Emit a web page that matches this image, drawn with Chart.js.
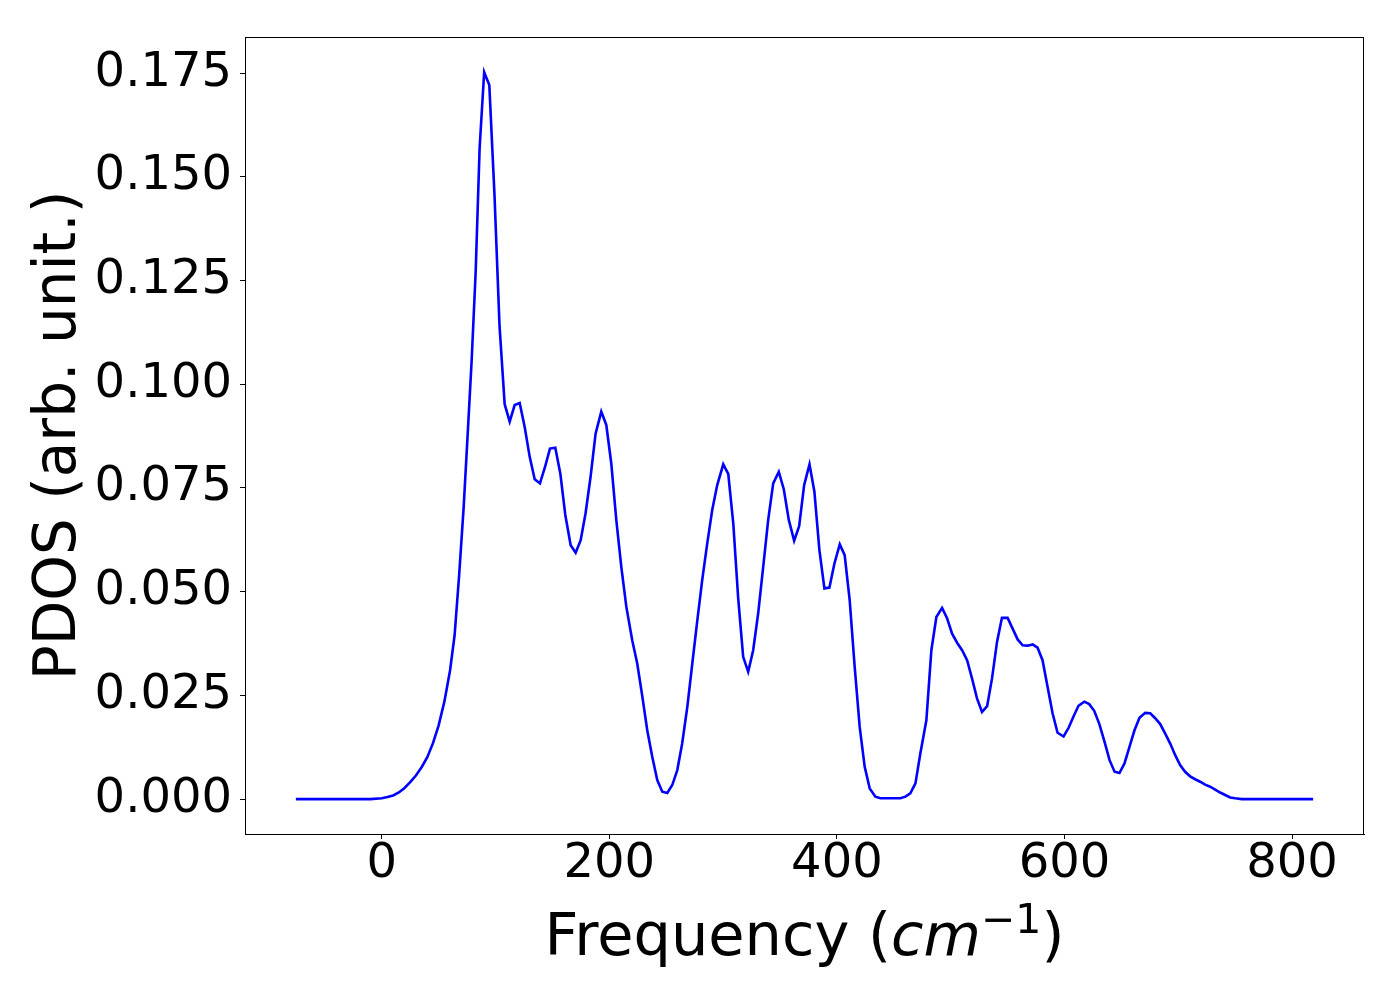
<!DOCTYPE html>
<html>
<head>
<meta charset="utf-8">
<script src="https://cdn.jsdelivr.net/npm/chart.js@4/dist/chart.umd.min.js"></script>
<style>
  html, body { margin: 0; padding: 0; background: #fff; }
  #wrap { width: 1400px; height: 1000px; }
</style>
</head>
<body>
<div id="wrap"><canvas id="pdos" width="1400" height="1000"></canvas></div>
<script>
// PDOS curve
const freq = [
  -75.5, -10, 0, 5, 10, 15, 20, 25, 30, 35, 40, 45, 50, 55, 60, 64, 68, 72, 76, 79,
  82.5, 86, 90, 94.5, 99, 103.5, 108, 112.4, 116.8, 121.2, 125.6, 130, 134.4, 139,
  143.4, 147.8, 152.5, 156.9, 161.3, 166, 170.4, 174.8, 179.1, 183.5, 187.9, 192.9,
  197.3, 201.7, 206.1, 210.5, 214.9, 220.1, 224.5, 229, 233.3, 237.7, 242.1, 246.5,
  250.9, 255.3, 259.7, 264, 268.5, 272.9, 277.3, 281.6, 286, 290.4, 294.8, 300.1,
  304.5, 308.9, 313.2, 317.6, 322, 326.4, 330.8, 335.2, 339.6, 344, 348.9, 353.3,
  357.7, 362.4, 366.8, 371.2, 375.9, 380.2, 384.6, 389, 393.4, 397.8, 402.5, 406.8,
  411.2, 415.6, 420, 424.4, 428.8, 433.8, 438.2, 455.8, 460.2, 464.5, 469, 473.3,
  478.6, 483, 487.4, 492.4, 496.8, 501.2, 505.6, 510, 514.4, 518.7, 523.1, 527.5,
  532, 536.3, 540.7, 545, 550, 554.4, 558.8, 563.2, 567.6, 572, 576.3, 580.7, 585.1,
  589.5, 593.9, 599.2, 603.6, 608, 612.3, 617.4, 621.7, 626.1, 630.5, 635.2, 639.6,
  644, 648.3, 652.7, 657.1, 661.5, 665.9, 670.9, 675.3, 679.7, 684.1, 688.5, 692.9,
  697.3, 701.6, 706, 710.4, 714.8, 719.2, 723.6, 728, 732.4, 736.8, 741.2, 745.6,
  750, 755.8, 818.5
];
const pdos = [
  0, 0, 0.0002, 0.0005, 0.0009, 0.0016, 0.0027, 0.0041, 0.0057, 0.0077, 0.0101, 0.0135, 0.0178, 0.0235, 0.0310, 0.0395, 0.0540, 0.0705, 0.0905, 0.1058,
  0.127, 0.157, 0.1752, 0.1721, 0.146, 0.114, 0.0952, 0.0910, 0.0950, 0.0955, 0.0897, 0.0825, 0.0771, 0.0761,
  0.0800, 0.0845, 0.0847, 0.0785, 0.0685, 0.0612, 0.0594, 0.0624, 0.0689, 0.0777, 0.0881, 0.0934,
  0.0902, 0.0809, 0.0673, 0.0560, 0.0464, 0.0383, 0.0327, 0.0247, 0.0166, 0.0102, 0.0046, 0.0018,
  0.0015, 0.0034, 0.0070, 0.0134, 0.0222, 0.0327, 0.0431, 0.0528, 0.0616, 0.0697, 0.0757, 0.0807,
  0.0784, 0.0665, 0.0485, 0.0343, 0.0307, 0.0359, 0.0448, 0.0560, 0.0673, 0.0761, 0.0789, 0.0747,
  0.0673, 0.0623, 0.0658, 0.0757, 0.0807, 0.0741, 0.0600, 0.0508, 0.0510, 0.0568, 0.0614, 0.0588,
  0.0480, 0.0319, 0.0174, 0.0078, 0.0026, 0.0006, 0.0002, 0.0002, 0.0006, 0.0014, 0.0038, 0.0110,
  0.0190, 0.0359, 0.0439, 0.0461, 0.0436, 0.0399, 0.0377, 0.0359, 0.0335, 0.0291, 0.0243, 0.0210,
  0.0224, 0.0291, 0.0379, 0.0437, 0.0437, 0.0411, 0.0385, 0.0371, 0.0370, 0.0373, 0.0365, 0.0335, 0.0271,
  0.0207, 0.0160, 0.0151, 0.0172, 0.0200, 0.0225, 0.0235, 0.0229, 0.0213, 0.0182, 0.0138, 0.0094,
  0.0066, 0.0063, 0.0086, 0.0126, 0.0166, 0.0196, 0.0208, 0.0207, 0.0195, 0.0181, 0.0158, 0.0134,
  0.0106, 0.0082, 0.0066, 0.0055, 0.0048, 0.0042, 0.0035, 0.0030, 0.0023, 0.0016, 0.0010, 0.0004,
  0.0002, 0, 0
];

const xTicks = [0, 200, 400, 600, 800]
const yTicks = [0, 0.025, 0.05, 0.075, 0.1, 0.125, 0.15, 0.175]

const FONT = "'DejaVu Sans', sans-serif"

// frame on all four sides, like a matplotlib axes box
const boxPlugin = {
  id: "box",
  afterDraw(chart) {
    const { ctx, chartArea: a } = chart
    ctx.save()
    ctx.strokeStyle = "#000"
    ctx.lineWidth = 1
    ctx.strokeRect(Math.round(a.left) + 0.5, Math.round(a.top) + 0.5,
      Math.round(a.right - a.left) - 1, Math.round(a.bottom - a.top))
    ctx.restore()
  }
}

// x title with italic "cm" and a superscript "-1"
const xTitlePlugin = {
  id: "xTitle",
  afterDraw(chart) {
    const { ctx, chartArea: a } = chart
    const size = 59
    const sup = Math.round(size * 0.7)
    const parts = [
      { t: "Frequency (", f: `${size}px ${FONT}`, dy: 0 },
      { t: "cm", f: `italic ${size}px ${FONT}`, dy: 0 },
      { t: "\u22121", f: `${sup}px ${FONT}`, dy: -22 },
      { t: ")", f: `${size}px ${FONT}`, dy: 0 },
    ]
    ctx.save()
    ctx.fillStyle = "#000"
    ctx.textBaseline = "alphabetic"
    let total = 0
    parts.forEach(p => { ctx.font = p.f; p.w = ctx.measureText(p.t).width; total += p.w })
    let x = (a.left + a.right) / 2 - total / 2
    const y = 955
    parts.forEach(p => {
      ctx.font = p.f
      ctx.fillText(p.t, x, y + p.dy)
      x += p.w
    })
    ctx.restore()
  }
}

new Chart(document.getElementById("pdos"), {
  type: "scatter",
  data: {
    datasets: [{
      data: freq.map((f, i) => ({ x: f, y: pdos[i] })),
      showLine: true,
      borderColor: "#0000ff",
      borderWidth: 2.6,
      pointRadius: 0,
      tension: 0,
    }]
  },
  options: {
    responsive: false,
    animation: false,
    devicePixelRatio: 1,
    layout: { padding: { top: 37, right: 36, left: 0, bottom: 0 } },
    plugins: {
      legend: { display: false },
      tooltip: { enabled: false },
    },
    scales: {
      x: {
        type: "linear",
        min: -120.2,
        max: 863.2,
        afterBuildTicks: (scale) => { scale.ticks = xTicks.map(v => ({ value: v })) },
        afterFit: (scale) => { scale.height = 166 },
        grid: { drawOnChartArea: false, tickLength: 5, color: "#000" },
        border: { display: true, color: "#000", width: 1 },
        ticks: {
          font: { family: FONT, size: 48, lineHeight: 1.0 },
          color: "#000",
          padding: 2,
          maxRotation: 0,
          callback: (v) => String(v),
        },
        title: { display: false },
      },
      y: {
        type: "linear",
        min: -0.0084,
        max: 0.1837,
        afterBuildTicks: (scale) => { scale.ticks = yTicks.map(v => ({ value: v })) },
        afterFit: (scale) => { scale.width = 245 },
        grid: { drawOnChartArea: false, tickLength: 5, color: "#000" },
        border: { display: true, color: "#000", width: 1 },
        ticks: {
          font: { family: FONT, size: 48 },
          color: "#000",
          padding: 8,
          callback: (v) => v.toFixed(3),
        },
        title: {
          display: true,
          text: "PDOS (arb. unit.)",
          color: "#000",
          font: { family: FONT, size: 58 },
          padding: { top: 25, bottom: 0 },
        },
      }
    }
  },
  plugins: [boxPlugin, xTitlePlugin]
})
</script>
</body>
</html>
